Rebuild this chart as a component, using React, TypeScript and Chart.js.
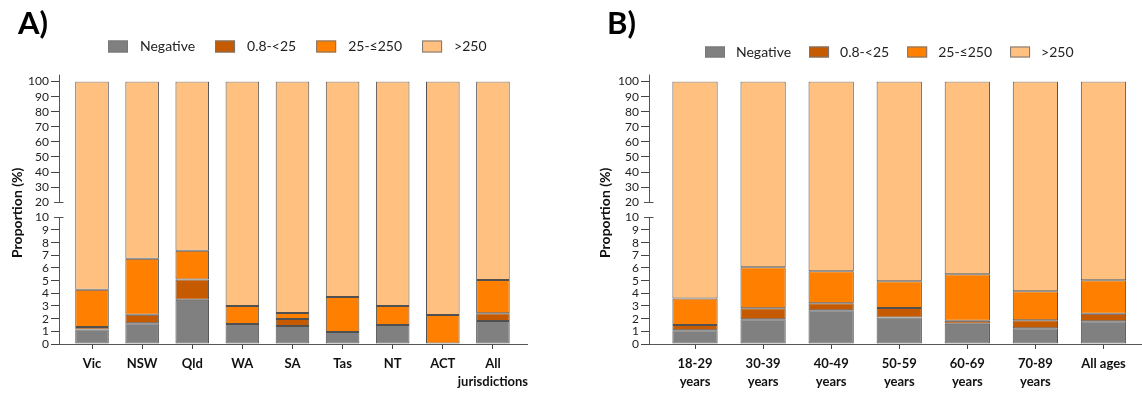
import React, { useEffect, useRef } from 'react';
import { Chart, registerables } from 'chart.js';

Chart.register(...registerables);

// ---------- data ----------
const seriesNames = ['Negative', '0.8-<25', '25-≤250', '>250'];
const seriesColors = ['#808080', '#C55A00', '#FF8000', '#FFC080'];

const jurisdictions = ['Vic', 'NSW', 'Qld', 'WA', 'SA', 'Tas', 'NT', 'ACT', 'All\njurisdictions'];
const jurNegative = [1.15, 1.63, 3.5, 1.58, 1.42, 0.95, 1.5, 0, 1.81];
const jurLow = [0.2, 0.67, 1.6, 0, 0.55, 0, 0, 0, 0.61];
const jurMid = [2.93, 4.42, 2.25, 1.42, 0.48, 2.76, 1.5, 2.29, 2.63];
const jurHigh = [95.72, 93.28, 92.65, 97.0, 97.55, 96.29, 97.0, 97.71, 94.95];

const ageGroups = ['18-29\nyears', '30-39\nyears', '40-49\nyears', '50-59\nyears', '60-69\nyears', '70-89\nyears', 'All ages'];
const ageNegative = [1.08, 1.95, 2.66, 2.1, 1.6, 1.24, 1.79];
const ageLow = [0.42, 0.87, 0.55, 0.74, 0.24, 0.63, 0.6];
const ageMid = [2.1, 3.23, 2.53, 2.11, 3.66, 2.29, 2.64];
const ageHigh = [96.4, 93.95, 94.26, 95.05, 94.5, 95.84, 94.97];

const yTickLabels = [0, 1, 2, 3, 4, 5, 6, 7, 8, 9, 10, 20, 30, 40, 50, 60, 70, 80, 90, 100];

// ---------- broken axis transform ----------
const BREAK = 10;
const UPPER_RATIO = 0.119; // display units per % above the break
const toD = (v: number) => (v <= BREAK ? v : BREAK + (v - BREAK) * UPPER_RATIO);

function buildDatasets(series: number[][]) {
  const n = series[0].length;
  const cum: number[][] = [];
  for (let i = 0; i < n; i++) {
    let s = 0;
    cum.push(series.map((arr) => (s += arr[i])));
  }
  return series.map((_, k) => ({
    label: seriesNames[k],
    backgroundColor: seriesColors[k],
    borderColor: '#505050',
    borderWidth: 1,
    borderSkipped: false as const,
    categoryPercentage: 1,
    data: cum.map((c, i) => ({
      x: i,
      y: toD(c[k]) - (k === 0 ? 0 : toD(c[k - 1])),
    })),
  }));
}

const decorPlugin = {
  id: 'decor',
  afterDraw(chart: any, _args: any, opts: any) {
    const { ctx, chartArea, scales } = chart;
    const y = scales.y;
    const ax = Math.round(chartArea.left) + 0.5;
    const y100 = y.getPixelForValue(toD(100));
    const y20 = Math.round(y.getPixelForValue(toD(20))) + 0.5;
    const y10 = Math.round(y.getPixelForValue(toD(10))) + 0.5;
    const y0 = y.getPixelForValue(0);
    ctx.save();
    ctx.strokeStyle = '#555';
    ctx.lineWidth = 1;
    ctx.beginPath();
    ctx.moveTo(ax, y100 - 7);
    ctx.lineTo(ax, y20);
    ctx.moveTo(ax, y10);
    ctx.lineTo(ax, y0);
    ctx.moveTo(ax - 5.5, y20);
    ctx.lineTo(ax + 4, y20);
    ctx.moveTo(ax - 5.5, y10);
    ctx.lineTo(ax + 4, y10);
    ctx.stroke();

    // panel letter
    ctx.fillStyle = '#000';
    ctx.font = 'bold 31px Lato';
    ctx.textBaseline = 'alphabetic';
    ctx.textAlign = 'left';
    ctx.fillText(opts.label, opts.labelX, 33.5);

    // legend
    ctx.font = '14px Lato';
    ctx.textBaseline = 'middle';
    let x = opts.legendX;
    const yc = opts.legendY;
    const bh = opts.boxH;
    chart.data.datasets.forEach((ds: any) => {
      ctx.fillStyle = ds.backgroundColor;
      ctx.fillRect(x, yc - bh / 2, 20, bh);
      ctx.strokeStyle = '#777';
      ctx.strokeRect(x + 0.5, yc - bh / 2 + 0.5, 19, bh - 1);
      ctx.fillStyle = '#222';
      ctx.fillText(ds.label, x + 20 + opts.gap, yc);
      x += 20 + opts.gap + ctx.measureText(ds.label).width + opts.pad;
    });
    ctx.restore();
  },
};

type PanelProps = {
  width: number;
  left: number;
  categories: string[];
  series: number[][];
  xMin: number;
  xMax: number;
  barPct: number;
  axisW: number;
  padRight: number;
  titlePad: number;
  decor: any;
};

function Panel(p: PanelProps) {
  const ref = useRef<HTMLCanvasElement | null>(null);
  useEffect(() => {
    if (!ref.current) return;
    const datasets = buildDatasets(p.series).map((d) => ({ ...d, barPercentage: p.barPct }));
    const chart = new Chart(ref.current, {
      type: 'bar',
      data: { datasets: datasets as any },
      plugins: [decorPlugin as any],
      options: {
        animation: false,
        responsive: false,
        devicePixelRatio: 1,
        layout: { padding: { top: 81.6, left: 0, right: p.padRight, bottom: 0 } },
        plugins: {
          legend: { display: false },
          tooltip: { enabled: false },
          decor: p.decor,
        } as any,
        scales: {
          x: {
            type: 'linear',
            stacked: true,
            min: p.xMin,
            max: p.xMax,
            offset: false,
            afterBuildTicks: (s: any) => {
              s.ticks = p.categories.map((_, i) => ({ value: i }));
            },
            afterFit: (s: any) => {
              s.height = 52;
            },
            grid: {
              offset: false,
              drawOnChartArea: false,
              drawTicks: true,
              tickLength: 5,
              color: '#444',
            },
            border: { display: true, color: '#555', width: 1 },
            ticks: {
              autoSkip: false,
              maxRotation: 0,
              minRotation: 0,
              padding: 6,
              color: '#111',
              font: { family: 'Lato', weight: 'bold', size: 13, lineHeight: 1.36 },
              callback: (v: any) => {
                const lab = p.categories[Math.round(Number(v))];
                return lab ? lab.split('\n') : '';
              },
            },
          },
          y: {
            type: 'linear',
            stacked: true,
            min: 0,
            max: toD(100),
            afterBuildTicks: (s: any) => {
              s.ticks = yTickLabels.map((v) => ({ value: toD(v) }));
            },
            afterFit: (s: any) => {
              s.width = p.axisW;
            },
            grid: {
              drawOnChartArea: false,
              drawTicks: true,
              tickLength: 8,
              color: (c: any) => {
                const lab = yTickLabels[c.index];
                return lab === 10 || lab === 20 ? 'rgba(0,0,0,0)' : '#444';
              },
            },
            border: { display: false },
            ticks: {
              autoSkip: false,
              padding: 2,
              color: '#222',
              font: { family: 'Lato', size: 12 },
              callback: (_v: any, i: number) => String(yTickLabels[i]),
            },
            title: {
              display: true,
              text: 'Proportion (%)',
              color: '#111',
              font: { family: 'Lato', weight: 'bold', size: 14 },
              padding: { top: p.titlePad, bottom: 0 },
            },
          },
        },
      } as any,
    });
    return () => chart.destroy();
  }, []);
  return (
    <canvas
      ref={ref}
      width={p.width}
      height={396}
      style={{ position: 'absolute', left: p.left, top: 0, width: p.width, height: 396 }}
    />
  );
}

export default function App() {
  return (
    <div style={{ position: 'absolute', left: 0, top: 0, width: 1142, height: 396, background: '#fff', overflow: 'hidden' }}>
      <Panel
        width={580}
        left={0}
        categories={jurisdictions}
        series={[jurNegative, jurLow, jurMid, jurHigh]}
        xMin={-0.659}
        xMax={8.68}
        barPct={0.67}
        axisW={59}
        padRight={53}
        titlePad={9}
        decor={{ label: 'A)', labelX: 18, legendX: 108, legendY: 46.5, boxH: 12, gap: 12, pad: 20 }}
      />
      <Panel
        width={562}
        left={580}
        categories={ageGroups}
        series={[ageNegative, ageLow, ageMid, ageHigh]}
        xMin={-0.676}
        xMax={6.566}
        barPct={0.665}
        axisW={69}
        padRight={0}
        titlePad={17}
        decor={{ label: 'B)', labelX: 27, legendX: 125, legendY: 52, boxH: 11, gap: 11, pad: 18 }}
      />
    </div>
  );
}
